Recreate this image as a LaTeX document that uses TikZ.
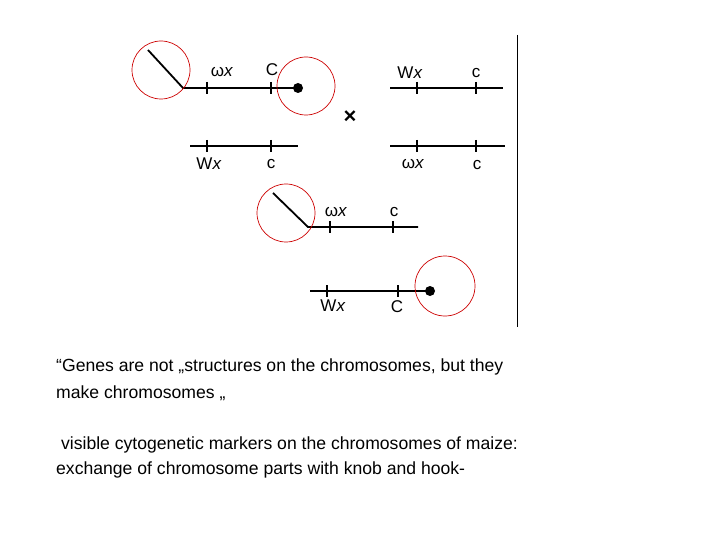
\documentclass[tikz,border=0pt]{standalone}
\usepackage{fontspec}
\setmainfont{Liberation Sans}
\begin{document}
\begin{tikzpicture}[x=1pt,y=-1pt,
  chrom/.style={line width=1.8pt},
  tick/.style={line width=1.8pt},
  ring/.style={draw=red!80!black,line width=0.7pt},
  gene/.style={font=\fontsize{17}{17}\selectfont,inner sep=0pt},
  txt/.style={font=\fontsize{17.6}{20}\selectfont,anchor=west,inner sep=0pt}]
\useasboundingbox (0,0) rectangle (720,540);
\draw[line width=1pt] (517,35) -- (517,327);
% chromosome 1
\coordinate (h1a) at (148,50); \coordinate (h1b) at (183,88); \coordinate (e1) at (298,88);
\draw[chrom] (h1a) -- (h1b) -- (e1);
\fill (e1) circle (5);
\draw[tick] (207,82) -- (207,94); \draw[tick] (271,82) -- (271,94);
\node[gene] (g1) at (222,72) {ω\textit{x}};
\node[gene] (g2) at (272,70) {C};
\draw[ring] (161,70) circle (29);
\draw[ring] (306,86) circle (29);
% chromosome 2
\coordinate (a2) at (390,88); \coordinate (b2) at (503,88);
\draw[chrom] (a2) -- (b2);
\draw[tick] (417,82) -- (417,94); \draw[tick] (476,82) -- (476,94);
\node[gene] (g3) at (410,73) {W\textit{x}};
\node[gene] (g4) at (476,73) {c};
\node[font=\fontsize{22}{22}\selectfont\bfseries] (x) at (350,117) {×};
% chromosome 3
\coordinate (a3) at (190,146); \coordinate (b3) at (298,146);
\draw[chrom] (a3) -- (b3);
\draw[tick] (207,140) -- (207,152); \draw[tick] (271,140) -- (271,152);
\node[gene] (g5) at (209,164) {W\textit{x}};
\node[gene] (g6) at (271,164) {c};
% chromosome 4
\coordinate (a4) at (390,146); \coordinate (b4) at (505,146);
\draw[chrom] (a4) -- (b4);
\draw[tick] (417,140) -- (417,152); \draw[tick] (476,140) -- (476,152);
\node[gene] (g7) at (413,164) {ω\textit{x}};
\node[gene] (g8) at (477,165) {c};
% chromosome 5
\coordinate (h5a) at (273,193); \coordinate (h5b) at (308,227); \coordinate (e5) at (418,227);
\draw[chrom] (h5a) -- (h5b) -- (e5);
\draw[tick] (330,221) -- (330,233); \draw[tick] (393,221) -- (393,233);
\node[gene] (g9) at (336,212) {ω\textit{x}};
\node[gene] (g10) at (394,212) {c};
\draw[ring] (286,213) circle (29);
% chromosome 6
\coordinate (a6) at (310,291); \coordinate (e6) at (430,291);
\draw[chrom] (a6) -- (e6);
\fill (e6) circle (5);
\draw[tick] (327,285) -- (327,297); \draw[tick] (398,285) -- (398,297);
\node[gene] (g11) at (333,306) {W\textit{x}};
\node[gene] (g12) at (397,307) {C};
\draw[ring] (445,286) circle (30);
% text
\node[txt] (t1) at (56,367) {“Genes are not „structures on the chromosomes, but they};
\node[txt] (t2) at (56,393) {make chromosomes „};
\node[txt] (t3) at (56,445) {\ visible cytogenetic markers on the chromosomes of maize:};
\node[txt] (t4) at (56,470) {exchange of chromosome parts with knob and hook-};
\end{tikzpicture}
\end{document}
